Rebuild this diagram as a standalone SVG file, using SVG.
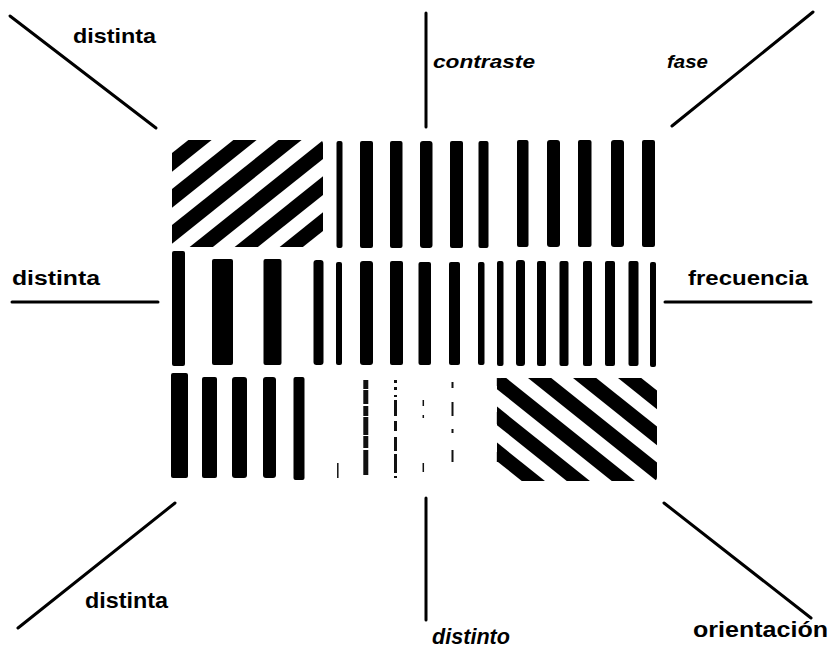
<svg xmlns="http://www.w3.org/2000/svg" width="829" height="649" viewBox="0 0 829 649">
<style>
.lbl{font-family:"Liberation Sans",Arial,sans-serif;font-weight:bold;fill:#000}
.it{font-style:italic}
.bar{fill:#000}
.stripe{stroke:#000;stroke-width:14.5;stroke-linecap:butt;fill:none}
.conn{stroke:#000;stroke-width:3;stroke-linecap:round;fill:none}
.faint{stroke:#111;fill:none;stroke-linecap:butt}
</style>
<defs>
<clipPath id="cTL"><rect x="172" y="140" width="151" height="107" rx="4"/></clipPath>
<clipPath id="cBR"><rect x="497" y="378" width="160" height="103" rx="4"/></clipPath>
</defs>
<rect width="829" height="649" fill="#fff"/>

<g id="connectors">
<line class="conn" x1="10" y1="16" x2="156" y2="128"/>
<line class="conn" x1="426" y1="13" x2="426" y2="127"/>
<line class="conn" x1="813" y1="12" x2="672" y2="126"/>
<line class="conn" x1="12" y1="302" x2="158" y2="302" stroke-width="2"/>
<line class="conn" x1="665" y1="302" x2="811" y2="302" stroke-width="2"/>
<line class="conn" x1="175" y1="503" x2="18" y2="628"/>
<line class="conn" x1="426" y1="498" x2="426" y2="620" stroke-width="2.5"/>
<line class="conn" x1="664" y1="503" x2="811" y2="618"/>
</g>

<g id="panel-diag-tl" clip-path="url(#cTL)">
<line class="stripe" x1="165" y1="168" x2="330" y2="36"/>
<line class="stripe" x1="165" y1="204" x2="330" y2="72"/>
<line class="stripe" x1="165" y1="240" x2="330" y2="108"/>
<line class="stripe" x1="165" y1="276" x2="330" y2="144"/>
<line class="stripe" x1="165" y1="312" x2="330" y2="180"/>
<line class="stripe" x1="165" y1="348" x2="330" y2="216"/>
</g>

<g id="panel-top-mid">
<rect class="bar" x="336.5" y="141" width="6" height="107" rx="2"/>
<rect class="bar" x="360" y="141" width="13" height="107" rx="2"/>
<rect class="bar" x="390" y="141" width="12.5" height="107" rx="2"/>
<rect class="bar" x="420" y="141" width="12.5" height="107" rx="3"/>
<rect class="bar" x="450" y="141" width="13" height="107" rx="2"/>
<rect class="bar" x="478.5" y="141" width="10" height="107" rx="2"/>
</g>

<g id="panel-top-right">
<rect class="bar" x="517" y="140" width="11.5" height="107" rx="2"/>
<rect class="bar" x="547" y="140" width="13" height="107" rx="3"/>
<rect class="bar" x="578" y="140" width="13.5" height="107" rx="2"/>
<rect class="bar" x="611" y="140" width="13" height="107" rx="3"/>
<rect class="bar" x="642" y="140" width="13" height="107" rx="2"/>
</g>

<g id="panel-mid-left">
<rect class="bar" x="172" y="251" width="13" height="115" rx="2"/>
<rect class="bar" x="212" y="259" width="21" height="106" rx="2"/>
<rect class="bar" x="263.5" y="259" width="18" height="106" rx="2"/>
<rect class="bar" x="313.5" y="260" width="10" height="105" rx="3"/>
</g>

<g id="panel-center">
<rect class="bar" x="336" y="262" width="6" height="103" rx="2"/>
<rect class="bar" x="360" y="261" width="13" height="104" rx="3"/>
<rect class="bar" x="390" y="261" width="13" height="104" rx="2"/>
<rect class="bar" x="418.5" y="262" width="12.5" height="103" rx="2"/>
<rect class="bar" x="449" y="262" width="11" height="103" rx="2"/>
<rect class="bar" x="478" y="262" width="6.5" height="103" rx="2"/>
</g>

<g id="panel-mid-right">
<rect class="bar" x="497" y="261" width="6.5" height="105" rx="2"/>
<rect class="bar" x="516" y="260" width="9" height="106" rx="3"/>
<rect class="bar" x="537" y="261" width="9" height="105" rx="2"/>
<rect class="bar" x="559.5" y="261" width="9" height="105" rx="2"/>
<rect class="bar" x="583" y="261" width="9" height="105" rx="2"/>
<rect class="bar" x="605" y="261" width="10" height="105" rx="2"/>
<rect class="bar" x="628.5" y="261" width="10" height="105" rx="2"/>
<rect class="bar" x="650" y="262" width="6" height="105" rx="2"/>
</g>

<g id="panel-bot-left">
<rect class="bar" x="171" y="373" width="17" height="105" rx="2"/>
<rect class="bar" x="202" y="377" width="15" height="101" rx="2"/>
<rect class="bar" x="232" y="377" width="15" height="101" rx="3"/>
<rect class="bar" x="263" y="377" width="13" height="101" rx="3"/>
<rect class="bar" x="293.5" y="377" width="11" height="103" rx="2"/>
</g>

<g id="panel-bot-mid">
<line class="faint" x1="337.8" y1="463" x2="337.8" y2="478" stroke-width="1.5"/>
<line class="faint" x1="365.8" y1="380" x2="365.8" y2="478" stroke-width="5" stroke-dasharray="9 1 14 2 10 1 18 1 12 2 25"/>
<line class="faint" x1="395.5" y1="380" x2="395.5" y2="478" stroke-width="3" stroke-dasharray="3 4 3 5 2 3 16 5 10 6 14 3 19"/>
<line class="faint" x1="423.3" y1="400" x2="423.3" y2="472" stroke-width="1.5" stroke-dasharray="6 9 3 45 9"/>
<line class="faint" x1="452.5" y1="382" x2="452.5" y2="462" stroke-width="2" stroke-dasharray="6 14 14 13 4 17 12"/>
<line class="faint" x1="498.3" y1="378" x2="498.3" y2="464" stroke-width="3" stroke-dasharray="8 26 12 28 10"/>
</g>

<g id="panel-diag-br" clip-path="url(#cBR)">
<line class="stripe" x1="490" y1="266.3" x2="665" y2="406.3"/>
<line class="stripe" x1="490" y1="302.3" x2="665" y2="442.3"/>
<line class="stripe" x1="490" y1="338.3" x2="665" y2="478.3"/>
<line class="stripe" x1="490" y1="374.3" x2="665" y2="514.3"/>
<line class="stripe" x1="490" y1="410.3" x2="665" y2="550.3"/>
<line class="stripe" x1="490" y1="446.3" x2="665" y2="586.3"/>
</g>

<g id="label-tl"><text class="lbl" x="73" y="43" font-size="21" textLength="83" lengthAdjust="spacingAndGlyphs">distinta</text></g>
<g id="label-contraste"><text class="lbl it" x="433" y="68" font-size="19" textLength="102" lengthAdjust="spacingAndGlyphs">contraste</text></g>
<g id="label-fase"><text class="lbl it" x="667" y="68" font-size="19" textLength="41" lengthAdjust="spacingAndGlyphs">fase</text></g>
<g id="label-ml"><text class="lbl" x="12" y="285" font-size="20" textLength="88" lengthAdjust="spacingAndGlyphs">distinta</text></g>
<g id="label-frecuencia"><text class="lbl" x="688" y="285" font-size="20" textLength="120" lengthAdjust="spacingAndGlyphs">frecuencia</text></g>
<g id="label-bl"><text class="lbl" x="85" y="608" font-size="22" textLength="83" lengthAdjust="spacingAndGlyphs">distinta</text></g>
<g id="label-distinto"><text class="lbl it" x="432" y="644" font-size="22" textLength="78" lengthAdjust="spacingAndGlyphs">distinto</text></g>
<g id="label-orientacion"><text class="lbl" x="693" y="637" font-size="22" textLength="135" lengthAdjust="spacingAndGlyphs">orientación</text></g>
</svg>
